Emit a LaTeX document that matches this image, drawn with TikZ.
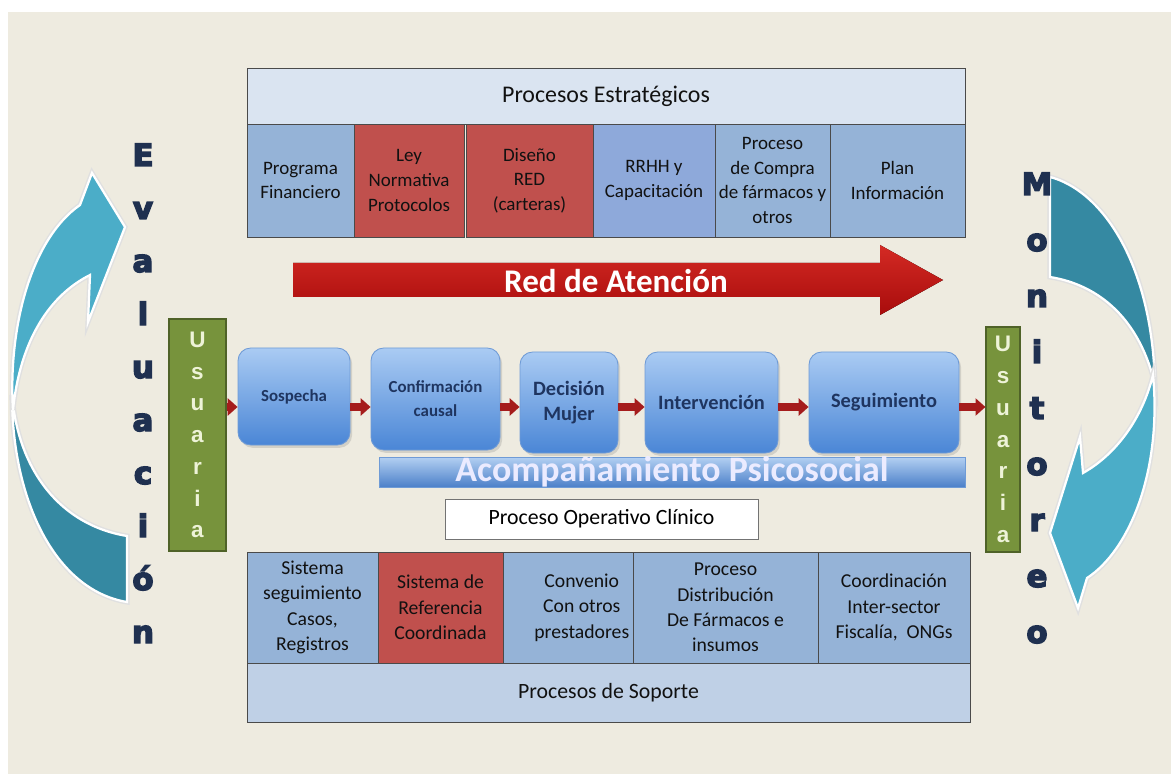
\documentclass[tikz,border=0pt]{standalone}
\usepackage{fontspec}
\setmainfont{Carlito}
\newfontfamily\heavyfont[BoldFeatures={FakeBold=4.5}]{DejaVu Sans}
\newfontfamily\arialfont{Liberation Sans}
\usetikzlibrary{arrows.meta}
\usetikzlibrary{shadows}

\definecolor{paper}{HTML}{EEEBE0}
\definecolor{boxline}{HTML}{4A4A4A}
\definecolor{boxblue}{HTML}{95B3D7}
\definecolor{boxblueb}{HTML}{8EA9DA}
\definecolor{boxred}{HTML}{C0504D}
\definecolor{headblue}{HTML}{DAE4F1}
\definecolor{footblue}{HTML}{BFD0E6}
\definecolor{txtdark}{HTML}{111111}
\definecolor{txtnavy}{HTML}{1F3560}
\definecolor{proctop}{HTML}{AACBF3}
\definecolor{procbot}{HTML}{4A86D6}
\definecolor{procline}{HTML}{6F9BD6}
\definecolor{bartop}{HTML}{B3D0F2}
\definecolor{barbot}{HTML}{4C80C9}
\definecolor{userfill}{HTML}{77933C}
\definecolor{userline}{HTML}{4F6228}
\definecolor{usertxt}{HTML}{EEF3D8}
\definecolor{flowred}{HTML}{A51C1C}
\definecolor{redtop}{HTML}{D42A24}
\definecolor{redbot}{HTML}{A80C0C}
\definecolor{lettnavy}{HTML}{1F3050}
\definecolor{tealdark}{HTML}{3589A2}
\definecolor{teallight}{HTML}{4BADC8}

\newcommand{\pix}{0.025cm}

\begin{document}
\begin{tikzpicture}[x=0.025cm, y=-0.025cm,
  panel/.style={draw=boxline, line width=0.7pt, inner sep=0pt, align=center, text=txtdark,
    font=\fontsize{13.5}{17.5}\selectfont},
  bluebox/.style={panel, fill=boxblue},
  redbox/.style={panel, fill=boxred},
  titlebox/.style={panel, fill=#1, font=\fontsize{17}{20}\selectfont},
  procbox/.style={rounded corners=9pt, draw=procline, line width=0.6pt, top color=proctop,
    bottom color=procbot, align=center, inner sep=0pt, text=txtnavy,
    font=\bfseries\fontsize{14.5}{18}\selectfont,
    drop shadow={shadow xshift=1.5pt, shadow yshift=-2pt, opacity=0.25}},
  userbox/.style={draw=userline, line width=0.8pt, fill=userfill, inner sep=0pt, align=center,
    text=usertxt, font=\arialfont\bfseries\fontsize{16}{22.6}\selectfont},
  flow/.style={line width=5pt, draw=flowred, -{Triangle[length=7pt, width=12pt]}},
  vletter/.style={anchor=base, inner sep=0pt, text=lettnavy,
    font=\heavyfont\bfseries\fontsize{22}{22}\selectfont},
  bigarc/.style={draw=white, line width=1.6pt, preaction={draw=black!12, line width=3.6pt}}
]
\useasboundingbox (0,0) rectangle (1171,774);
\fill[paper] (8,12) rectangle (1171,774);

% curved arrows
\fill[tealdark, bigarc] (127,536) -- (127,602) .. controls (55,590) and (12,500) .. (12,395)
  .. controls (18,470) and (60,525) .. (127,536) -- cycle;
\fill[teallight, bigarc] (13,410) .. controls (8,330) and (30,240) .. (80,205) -- (92,173)
  -- (125,227) -- (88,322) -- (90,275) .. controls (50,295) and (20,340) .. (13,410) -- cycle;
\fill[tealdark, bigarc] (1050,177) .. controls (1100,190) and (1152,260) .. (1155,385)
  .. controls (1140,320) and (1100,285) .. (1050,277) -- cycle;
\fill[teallight, bigarc] (1153,375) .. controls (1162,470) and (1130,550) .. (1087,578)
  -- (1078,608) -- (1050,533) -- (1080,437) -- (1083,473)
  .. controls (1115,455) and (1142,420) .. (1153,375) -- cycle;

\foreach \ch [count=\k from 0] in {E,v,a,l,u,a,c,i,ó,n} {
  \node[vletter] (ev\k) at (143,{166+53*\k}) {\ch};
}
\foreach \ch [count=\k from 0] in {M,o,n,i,t,o,r,e,o} {
  \node[vletter] (mo\k) at (1037,{195+56*\k}) {\ch};
}

% procesos estrategicos
\node[titlebox=headblue, minimum width=718*\pix, minimum height=56*\pix] (estr) at (606,96) {Procesos Estratégicos};
\node[bluebox, minimum width=107*\pix, minimum height=113*\pix] (prog) at (300.5,180.5) {Programa\\Financiero};
\node[redbox, minimum width=110*\pix, minimum height=113*\pix] (ley) at (409,180.5) {Ley\\Normativa\\Protocolos};
\node[redbox, minimum width=127*\pix, minimum height=113*\pix] (dis) at (529.5,180.5) {Diseño\\RED\\(carteras)};
\node[panel, fill=boxblueb, minimum width=122*\pix, minimum height=113*\pix] (rrhh) at (654,180.5) {RRHH y\\Capacitación};
\node[bluebox, minimum width=115*\pix, minimum height=113*\pix] (comp) at (772.5,180.5) {Proceso\\de Compra\\de fármacos y\\otros};
\node[bluebox, minimum width=135*\pix, minimum height=113*\pix] (plan) at (897.5,180.5) {Plan\\Información};

% red de atencion
\fill[top color=redtop, bottom color=redbot] (293,263) -- (880,263) -- (880,245) -- (943,280)
  -- (880,315) -- (880,297) -- (293,297) -- cycle;
\node[text=white, font=\bfseries\fontsize{23.5}{23.5}\selectfont] (red) at (616,281) {Red de Atención};

% proceso clinico
\node[userbox, minimum width=57*\pix, minimum height=232*\pix] (usl) at (197.5,435) {U\\s\\u\\a\\r\\i\\a};
\node[userbox, minimum width=34*\pix, minimum height=225*\pix] (usr) at (1003,439.5) {U\\s\\u\\a\\r\\i\\a};
\node[procbox, font=\bfseries\fontsize{12}{17}\selectfont, minimum width=112*\pix, minimum height=97*\pix] (sos) at (294,396.5) {Sospecha};
\node[procbox, font=\bfseries\fontsize{12}{17}\selectfont, minimum width=129*\pix, minimum height=102*\pix] (con) at (435.5,399) {Confirmación\\causal};
\node[procbox, minimum width=98*\pix, minimum height=101*\pix] (dec) at (569,402.5) {Decisión\\Mujer};
\node[procbox, minimum width=133*\pix, minimum height=101*\pix] (int) at (711.5,402.5) {Intervención};
\node[procbox, minimum width=150*\pix, minimum height=101*\pix] (seg) at (884,402.5) {Seguimiento};

\coordinate (flowy) at (0,407);
\draw[flow] (usl.east |- flowy) -- (sos.west |- flowy);
\foreach \a/\b in {sos/con, con/dec, dec/int, int/seg} {
  \draw[flow] (\a.east |- flowy) -- (\b.west |- flowy);
}
\draw[flow] (seg.east |- flowy) -- (usr.west |- flowy);

\node[top color=bartop, bottom color=barbot, draw=procline, line width=0.4pt, inner sep=0pt,
  minimum width=586*\pix, minimum height=30*\pix, text height=14pt, text depth=0pt,
  text=white!92!blue, font=\bfseries\fontsize{25.5}{25.5}\selectfont] (aco) at (672,472) {Acompañamiento Psicosocial};
\node[draw=black!55, fill=white, line width=0.7pt, minimum width=313*\pix, minimum height=40*\pix,
  font=\fontsize{15.5}{18}\selectfont] (poc) at (601.5,519) {Proceso Operativo Clínico};

% procesos de soporte
\node[bluebox, font=\fontsize{14}{18}\selectfont, minimum width=131*\pix, minimum height=111*\pix] (sis) at (312.5,607.5) {Sistema\\seguimiento\\Casos,\\Registros};
\node[redbox, font=\fontsize{14}{18}\selectfont, minimum width=125*\pix, minimum height=111*\pix] (ref) at (440.5,607.5) {Sistema de\\Referencia\\Coordinada};
\node[bluebox, font=\fontsize{14}{18}\selectfont, minimum width=130*\pix, minimum height=111*\pix] (conv) at (568,607.5) {\hspace*{1.4em}Convenio\\\hspace*{1.4em}Con otros\\\hspace*{1.4em}prestadores};
\node[bluebox, font=\fontsize{14}{18}\selectfont, minimum width=185*\pix, minimum height=111*\pix] (dist) at (725.5,607.5) {Proceso\\Distribución\\De Fármacos e\\insumos};
\node[bluebox, font=\fontsize{14}{18}\selectfont, minimum width=152*\pix, minimum height=111*\pix] (coord) at (894,607.5) {Coordinación\\Inter-sector\\Fiscalía,~ ONGs};
\node[titlebox=footblue, font=\fontsize{15.5}{18}\selectfont, minimum width=723*\pix, minimum height=59*\pix] (sop) at (608.5,692.5) {Procesos de Soporte};
\end{tikzpicture}
\end{document}
